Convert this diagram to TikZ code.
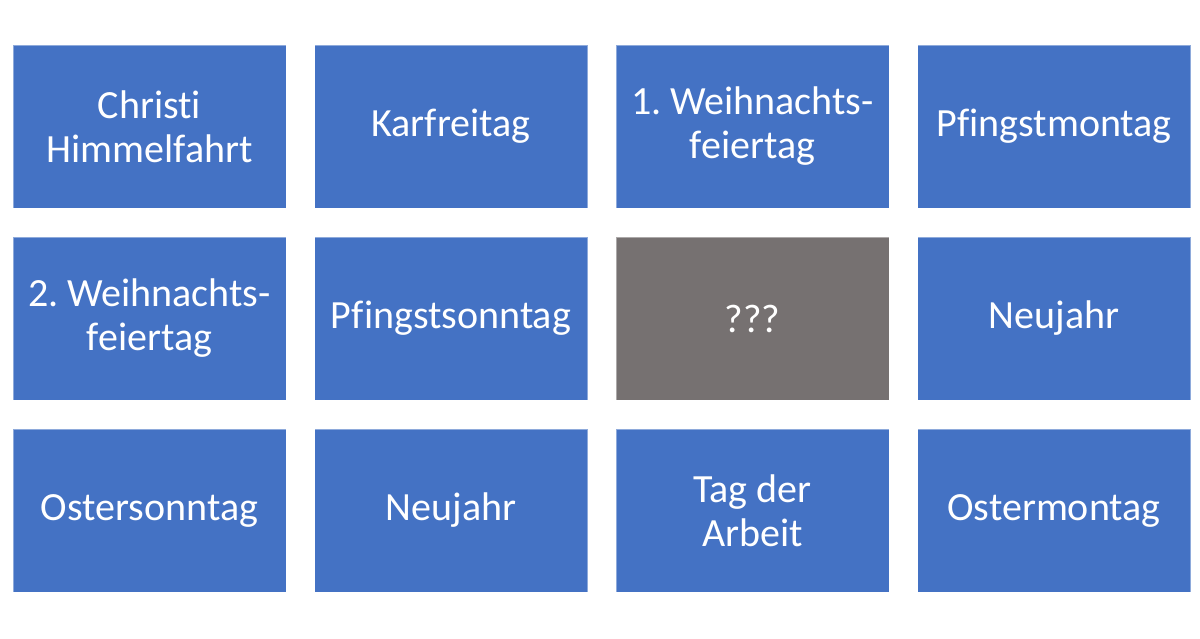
\documentclass[tikz,border=0pt]{standalone}
\usepackage{fontspec}
\setmainfont[Ligatures=NoCommon]{Carlito}
\usepackage{xcolor}
\usetikzlibrary{positioning}

\definecolor{tileblue}{HTML}{4472C4}
\definecolor{tilegrey}{HTML}{767171}
\frenchspacing

\begin{document}
\begin{tikzpicture}[
    x=1pt, y=1pt,
    node distance=29pt and 28.5pt,
    holiday/.style={rectangle, draw=white, draw opacity=0.4, line width=0.75pt, fill=tileblue, text=white, minimum width=273pt, minimum height=163pt, inner sep=0pt, outer sep=0pt, align=center, font=\fontsize{40}{44}\selectfont},
    unknown/.style={holiday, fill=tilegrey}
]
    \useasboundingbox (0,0) rectangle (1200,-638);

    % First row
    \node[holiday, anchor=north west] (christi) at (13,-45) {Christi\\Himmelfahrt};
    \node[holiday, right=of christi] (karfreitag) {Karfreitag};
    \node[holiday, right=of karfreitag] (weihnachtsA) {1. Weihnachts-\\feiertag};
    \node[holiday, right=of weihnachtsA] (pfingstmontag) {Pfingstmontag};

    % Second row
    \node[holiday, below=of christi] (weihnachtsB) {2. Weihnachts-\\feiertag};
    \node[holiday, right=of weihnachtsB] (pfingstsonntag) {Pfingstsonntag};
    \node[unknown, right=of pfingstsonntag] (gesucht) {???};
    \node[holiday, right=of gesucht] (neujahrA) {Neujahr};

    % Third row
    \node[holiday, below=of weihnachtsB] (ostersonntag) {Ostersonntag};
    \node[holiday, right=of ostersonntag] (neujahrB) {Neujahr};
    \node[holiday, right=of neujahrB] (arbeit) {Tag der\\Arbeit};
    \node[holiday, right=of arbeit] (ostermontag) {Ostermontag};
\end{tikzpicture}
\end{document}
